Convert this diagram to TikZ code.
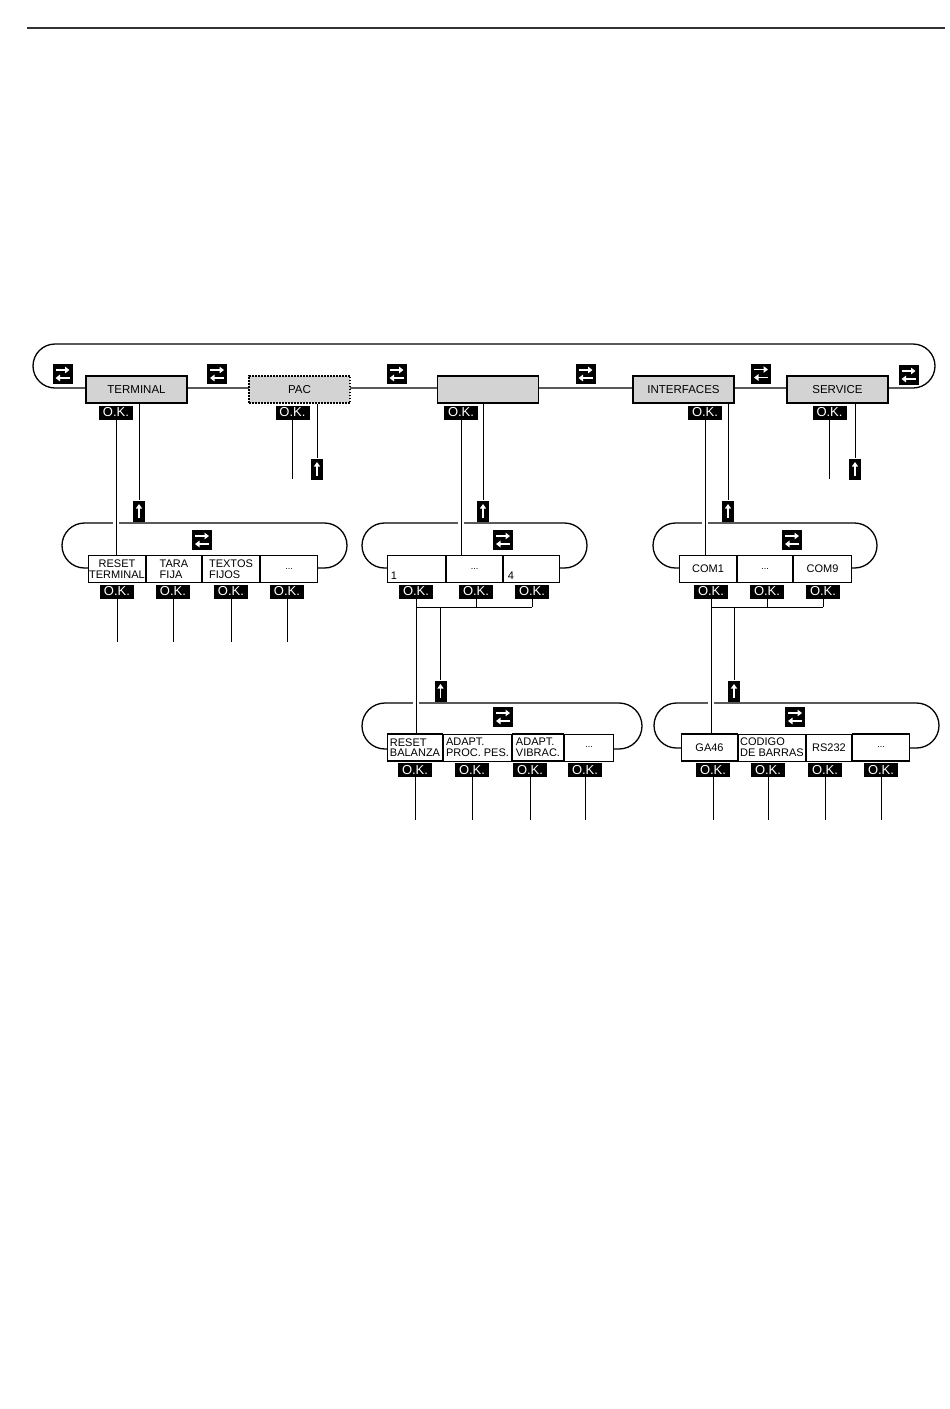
\documentclass[tikz,border=0pt]{standalone}
\usepackage{fontspec}
\setmainfont{Liberation Sans}
\usetikzlibrary{arrows.meta}
\definecolor{boxgray}{HTML}{D3D3D3}
\begin{document}
\begin{tikzpicture}[x=1pt,y=-1pt,
  loopline/.style={line width=1.3pt},
  conn/.style={line width=0.9pt},
  crossgap/.style={conn,preaction={draw=white,line width=6pt}},
  topbox/.style={draw,line width=1.8pt,fill=boxgray,minimum width=101pt,minimum height=27.5pt,inner sep=0pt,font=\fontsize{11.5}{12}\selectfont},
  subbox/.style={draw,line width=1.6pt,fill=white,minimum height=27pt,inner sep=0pt,font=\fontsize{11}{10.6}\selectfont},
  thinbox/.style={subbox,line width=0.8pt},
  dots/.style={font=\fontsize{9}{9}\selectfont},
  ok/.style={fill=black,text=white,minimum width=34pt,minimum height=14pt,inner sep=0pt,font=\fontsize{13}{12}\selectfont},
  swapicon/.style={fill=black,minimum width=20pt,minimum height=20pt,inner sep=0pt,
    path picture={
      \draw[white,line width=1.5pt,-{Triangle[length=4.5pt,width=6.5pt]}] ([shift={(-7pt,4pt)}]path picture bounding box.center) -- ++(14pt,0);
      \draw[white,line width=1.5pt,-{Triangle[length=4.5pt,width=6.5pt]}] ([shift={(7pt,-4pt)}]path picture bounding box.center) -- ++(-14pt,0);
    }},
  upicon/.style={fill=black,minimum width=12pt,minimum height=21pt,inner sep=0pt,
    path picture={
      \draw[white,line width=1.4pt,-{Triangle[length=4.5pt,width=6pt]}] ([yshift=-7pt]path picture bounding box.center) -- ++(0,14pt);
    }},
]
\useasboundingbox (0,0) rectangle (950,1409);
% top rule
\draw[line width=1.6pt,black!80] (27,28) -- (945,28);

% loops
\draw[loopline,rounded corners=22pt] (33,344) rectangle (935,388);
\draw[loopline,rounded corners=22.5pt] (62,523) rectangle (347,568);
\draw[loopline,rounded corners=22.5pt] (362,523) rectangle (587,568);
\draw[loopline,rounded corners=22.5pt] (653,523) rectangle (877,568);
\draw[loopline,rounded corners=23pt] (362,703) rectangle (642,749);
\draw[loopline,rounded corners=22.5pt] (654,703) rectangle (939,748);

% helper levels
\coordinate (y479) at (0,479);
\coordinate (y642) at (0,642);
\coordinate (y607) at (0,607);
\coordinate (y820) at (0,820);

% top row
\node[topbox] (t1) at (136.5,389.5) {TERMINAL};
\node[topbox,dash pattern=on 1.5pt off 1.5pt] (t2) at (299.5,389.5) {PAC};
\node[topbox] (t3) at (488,389.5) {};
\node[topbox] (t4) at (683.5,389.5) {INTERFACES};
\node[topbox] (t5) at (837.5,389.5) {SERVICE};

\node[swapicon] (s1) at (62.5,374) {};
\node[swapicon] (s2) at (217,374) {};
\node[swapicon] (s3) at (396.5,374) {};
\node[swapicon] (s4) at (585.5,374) {};
\node[swapicon] (s5) at (761,373.5) {};
\node[swapicon] (s6) at (908.5,375) {};

\node[ok] (ok1) at (116,412.5) {O.K.};
\node[ok] (ok2) at (292.5,412.5) {O.K.};
\node[ok] (ok3) at (461,412.5) {O.K.};
\node[ok] (ok4) at (705,412.5) {O.K.};
\node[ok] (ok5) at (829.5,412.5) {O.K.};

% second row
\node[subbox,minimum width=57pt,align=center] (a1) at (117,569) {RESET\\TERMINAL};
\node[subbox,minimum width=55pt,align=left] (a2) at (174,569) {TARA\\FIJA};
\node[subbox,minimum width=57pt,align=left] (a3) at (231,569) {TEXTOS\\FIJOS};
\node[subbox,minimum width=57pt,dots] (a4) at (289,569) {...};

\node[subbox,minimum width=58pt] (b1) at (416.5,569) {};
\node[subbox,minimum width=56pt,dots] (b2) at (474.5,569) {...};
\node[subbox,minimum width=56pt] (b3) at (531.5,569) {};
\node[anchor=south west,inner sep=0pt,font=\fontsize{11}{10}\selectfont] (b1t) at ([shift={(4pt,4pt)}]b1.south west) {1};
\node[anchor=south west,inner sep=0pt,font=\fontsize{11}{10}\selectfont] (b3t) at ([shift={(5pt,4pt)}]b3.south west) {4};

\node[subbox,minimum width=57pt] (c1) at (708,569) {COM1};
\node[subbox,minimum width=55pt,dots] (c2) at (765,569) {...};
\node[subbox,minimum width=58pt] (c3) at (822.5,569) {COM9};

\node[swapicon] (s7) at (202,540) {};
\node[swapicon] (s8) at (503,540) {};
\node[swapicon] (s9) at (792,540) {};

\node[ok] (oa1) at (117,591.5) {O.K.};
\node[ok] (oa2) at (173,591.5) {O.K.};
\node[ok] (oa3) at (231,591.5) {O.K.};
\node[ok] (oa4) at (287,591.5) {O.K.};
\node[ok] (ob1) at (416,591.5) {O.K.};
\node[ok] (ob2) at (476,591.5) {O.K.};
\node[ok] (ob3) at (532,591.5) {O.K.};
\node[ok] (oc1) at (711,591.5) {O.K.};
\node[ok] (oc2) at (767,591.5) {O.K.};
\node[ok] (oc3) at (823,591.5) {O.K.};

% third row
\node[subbox,minimum width=55pt,align=left] (d1) at (415,747.5) {RESET\\BALANZA};
\node[thinbox,minimum width=68pt,align=left] (d2) at (477.5,747.5) {ADAPT.\\PROC. PES.};
\node[subbox,minimum width=51pt,align=left] (d3) at (538,747.5) {ADAPT.\\VIBRAC.};
\node[thinbox,minimum width=49pt,dots] (d4) at (589,747.5) {...};

\node[subbox,minimum width=56pt] (e1) at (709.5,747.5) {GA46};
\node[thinbox,minimum width=67pt,align=left] (e2) at (772,747.5) {CODIGO\\DE BARRAS};
\node[thinbox,minimum width=45pt] (e3) at (829,747.5) {RS232};
\node[subbox,minimum width=57pt,dots] (e4) at (881,747.5) {...};

\node[swapicon] (s10) at (503,717) {};
\node[swapicon] (s11) at (795,717) {};

\node[ok] (od1) at (415,770) {O.K.};
\node[ok] (od2) at (472,770) {O.K.};
\node[ok] (od3) at (530,770) {O.K.};
\node[ok] (od4) at (585,770) {O.K.};
\node[ok] (oe1) at (713,770) {O.K.};
\node[ok] (oe2) at (768,770) {O.K.};
\node[ok] (oe3) at (825,770) {O.K.};
\node[ok] (oe4) at (881,770) {O.K.};

% up icons
\node[upicon] (u1) at (139,511) {};
\node[upicon] (u2) at (317,469) {};
\node[upicon] (u3) at (483,511) {};
\node[upicon] (u4) at (728,511) {};
\node[upicon] (u5) at (855,469) {};
\node[upicon] (u6) at (440.5,691) {};
\node[upicon] (u7) at (734,691) {};

% connectors top row
\draw[crossgap] (ok1.south) -- (ok1.south |- a1.north);
\draw[conn] (t1.south -| u1.north) -- (u1.north);
\draw[conn] (ok2.south) -- (ok2.south |- y479);
\draw[conn] (t2.south -| u2.north) -- (u2.north);
\draw[crossgap] (ok3.south) -- (ok3.south |- b2.north);
\draw[conn] (t3.south -| u3.north) -- (u3.north);
\draw[crossgap] (ok4.south) -- (ok4.south |- c1.north);
\draw[conn] (t4.south -| u4.north) -- (u4.north);
\draw[conn] (ok5.south) -- (ok5.south |- y479);
\draw[conn] (t5.south -| u5.north) -- (u5.north);

% connectors second row
\foreach \o in {oa1,oa2,oa3,oa4} { \draw[conn] (\o.south) -- (\o.south |- y642); }
\draw[crossgap] (ob1.south) -- (ob1.south |- d1.north);
\draw[conn] (ob1.south |- y607) -- (ob3.south |- y607);
\draw[conn] (ob2.south) -- (ob2.south |- y607);
\draw[conn] (ob3.south) -- (ob3.south |- y607);
\draw[conn] (u6.north |- y607) -- (u6.north);
\draw[crossgap] (oc1.south) -- (oc1.south |- e1.north);
\draw[conn] (oc1.south |- y607) -- (oc3.south |- y607);
\draw[conn] (oc2.south) -- (oc2.south |- y607);
\draw[conn] (oc3.south) -- (oc3.south |- y607);
\draw[conn] (u7.north |- y607) -- (u7.north);

% connectors third row
\foreach \o in {od1,od2,od3,od4,oe1,oe2,oe3,oe4} { \draw[conn] (\o.south) -- (\o.south |- y820); }
\end{tikzpicture}
\end{document}
